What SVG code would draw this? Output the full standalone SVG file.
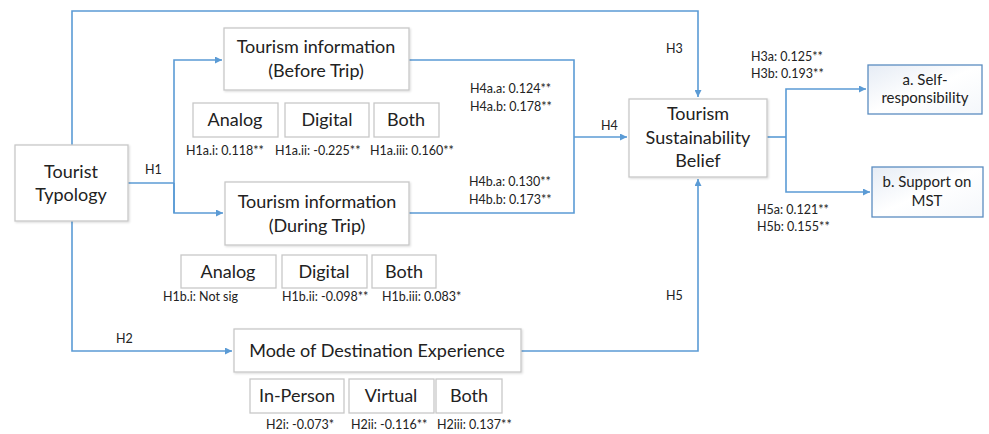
<svg xmlns="http://www.w3.org/2000/svg" width="989" height="434" viewBox="0 0 989 434">
<style>
.box{fill:#fff;stroke:#C8C8C8;stroke-width:1.3}
.box2{fill:url(#g);stroke:#5B8DC0;stroke-width:1.3}
.c{fill:none;stroke:#5B9BD5;stroke-width:1.6}
.t{font-family:Lato,"Open Sans",sans-serif;font-size:18px;fill:#222;text-anchor:middle}
.s{font-family:Lato,"Open Sans",sans-serif;font-size:12.5px;fill:#222}
.m{font-family:Lato,"Open Sans",sans-serif;font-size:15px;fill:#222;text-anchor:middle}
</style>
<defs>
<marker id="a" viewBox="0 0 10 10" refX="10" refY="5" markerWidth="7" markerHeight="7" markerUnits="userSpaceOnUse" orient="auto"><path d="M0,0L10,5L0,10Z" fill="#5B9BD5"/></marker>
<linearGradient id="g" x1="0" y1="0" x2="1" y2="1"><stop offset="0" stop-color="#E6ECF5"/><stop offset="0.5" stop-color="#FFFFFF"/><stop offset="1" stop-color="#F4F7FB"/></linearGradient>
<filter id="sh" x="-10%" y="-10%" width="130%" height="130%"><feDropShadow dx="1" dy="1" stdDeviation="1" flood-color="#000" flood-opacity="0.15"/></filter>
</defs>
<g id="connectors">
<path class="c" d="M72,145V11H698V97" marker-end="url(#a)"/>
<path class="c" d="M72,221V351H232" marker-end="url(#a)"/>
<path class="c" d="M128,183H174"/>
<path class="c" d="M174,213V60H222" marker-end="url(#a)"/>
<path class="c" d="M174,183V213H223" marker-end="url(#a)"/>
<path class="c" d="M409,60H574V213H409"/>
<path class="c" d="M574,137H627" marker-end="url(#a)"/>
<path class="c" d="M521,351H698V179" marker-end="url(#a)"/>
<path class="c" d="M767,137H786"/>
<path class="c" d="M786,137V89H866" marker-end="url(#a)"/>
<path class="c" d="M786,137V192H870" marker-end="url(#a)"/>
</g>
<g id="tourist-typology"><rect class="box" x="15" y="145" width="113" height="76" filter="url(#sh)"/><text class="t" x="71" y="178">Tourist</text><text class="t" x="71" y="201">Typology</text></g>
<g id="info-before"><rect class="box" x="224" y="28" width="185" height="62" filter="url(#sh)"/><text class="t" x="316" y="53">Tourism information</text><text class="t" x="316" y="77">(Before Trip)</text></g>
<g id="before-analog"><rect class="box" x="193" y="103" width="85" height="34"/><text class="t" x="235" y="126">Analog</text></g>
<g id="before-digital"><rect class="box" x="285" y="103" width="84" height="34"/><text class="t" x="327" y="126">Digital</text></g>
<g id="before-both"><rect class="box" x="374" y="103" width="65" height="34"/><text class="t" x="406" y="126">Both</text></g>
<g id="info-during"><rect class="box" x="225" y="182" width="184" height="63" filter="url(#sh)"/><text class="t" x="317" y="208">Tourism information</text><text class="t" x="317" y="232">(During Trip)</text></g>
<g id="during-analog"><rect class="box" x="181" y="255" width="95" height="33"/><text class="t" x="228" y="278">Analog</text></g>
<g id="during-digital"><rect class="box" x="282" y="255" width="85" height="33"/><text class="t" x="324" y="278">Digital</text></g>
<g id="during-both"><rect class="box" x="372" y="255" width="64" height="33"/><text class="t" x="404" y="278">Both</text></g>
<g id="tsb"><rect class="box" x="629" y="99" width="138" height="78" filter="url(#sh)"/><text class="t" x="698" y="120">Tourism</text><text class="t" x="698" y="144">Sustainability</text><text class="t" x="698" y="167">Belief</text></g>
<g id="mode"><rect class="box" x="234" y="329" width="287" height="43" filter="url(#sh)"/><text class="t" x="377" y="357">Mode of Destination Experience</text></g>
<g id="mode-inperson"><rect class="box" x="250" y="379" width="94" height="34"/><text class="t" x="297" y="402">In-Person</text></g>
<g id="mode-virtual"><rect class="box" x="349" y="379" width="85" height="34"/><text class="t" x="391" y="402">Virtual</text></g>
<g id="mode-both"><rect class="box" x="436" y="379" width="66" height="34"/><text class="t" x="469" y="402">Both</text></g>
<g id="self-responsibility"><rect class="box2" x="868" y="65" width="114" height="49"/><text class="m" x="925" y="85">a. Self-</text><text class="m" x="925" y="103">responsibility</text></g>
<g id="support-mst"><rect class="box2" x="872" y="167" width="111" height="50"/><text class="m" x="927" y="187">b. Support on</text><text class="m" x="927" y="206">MST</text></g>
<g id="labels">
<text class="s" x="145" y="174">H1</text>
<text class="s" x="116" y="343">H2</text>
<text class="s" x="666" y="53">H3</text>
<text class="s" x="601" y="130">H4</text>
<text class="s" x="666" y="300">H5</text>
<text class="s" x="186" y="155">H1a.i: 0.118**</text>
<text class="s" x="275" y="155">H1a.ii: -0.225**</text>
<text class="s" x="370" y="155">H1a.iii: 0.160**</text>
<text class="s" x="163" y="301">H1b.i: Not sig</text>
<text class="s" x="282" y="301">H1b.ii: -0.098**</text>
<text class="s" x="382" y="301">H1b.iii: 0.083*</text>
<text class="s" x="266" y="429">H2i: -0.073*</text>
<text class="s" x="351" y="429">H2ii: -0.116**</text>
<text class="s" x="437" y="429">H2iii: 0.137**</text>
<text class="s" x="470" y="93">H4a.a: 0.124**</text>
<text class="s" x="470" y="111">H4a.b: 0.178**</text>
<text class="s" x="469" y="186">H4b.a: 0.130**</text>
<text class="s" x="469" y="204">H4b.b: 0.173**</text>
<text class="s" x="751" y="61">H3a: 0.125**</text>
<text class="s" x="751" y="78">H3b: 0.193**</text>
<text class="s" x="757" y="214">H5a: 0.121**</text>
<text class="s" x="757" y="231">H5b: 0.155**</text>
</g>
</svg>
